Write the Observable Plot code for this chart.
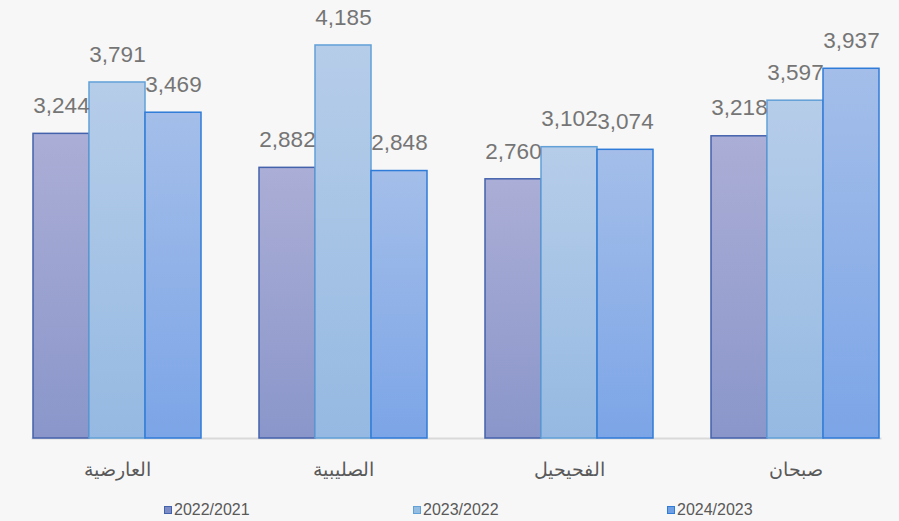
<!DOCTYPE html>
<html><head><meta charset="utf-8">
<script src="https://cdn.jsdelivr.net/npm/d3@7"></script>
<script src="https://cdn.jsdelivr.net/npm/@observablehq/plot@0.6"></script>
<style>
html,body{margin:0;padding:0;background:#f7f7f7;}
#chart{width:899px;height:521px;position:relative;overflow:hidden;}
#legend{position:absolute;left:0;top:501px;width:899px;height:20px;font-family:"Liberation Sans",Arial,sans-serif;font-size:16px;color:#595959;}
.li{position:absolute;top:0;display:flex;align-items:center;}
.sw{width:8px;height:8px;margin-right:2px;box-sizing:border-box;border:1px solid;}
</style></head>
<body><div id="chart"></div>
<script>
const categories = ["العارضية", "الصليبية", "الفحيحيل", "صبحان"];
const seriesNames = ["2022/2021", "2023/2022", "2024/2023"];
const values2022 = [3244, 2882, 2760, 3218];
const values2023 = [3791, 4185, 3102, 3597];
const values2024 = [3469, 2848, 3074, 3937];

const seriesValues = [values2022, values2023, values2024];
const data = [];
categories.forEach((c, i) => seriesValues.forEach((vals, s) => data.push({category: c, series: seriesNames[s], value: vals[i]})));

const fills = {"2022/2021": "url(#g0)", "2023/2022": "url(#g1)", "2024/2023": "url(#g2)"};
const strokes = {"2022/2021": "#4462ac", "2023/2022": "#62a0d8", "2024/2023": "#2f7bd8"};
const fmt = d3.format(",");

const plot = Plot.plot({
  width: 899, height: 490,
  marginTop: 0, marginBottom: 52, marginLeft: 4, marginRight: 0,
  style: {background: "transparent", fontFamily: "'Liberation Sans', Arial, sans-serif", overflow: "visible"},
  fx: {domain: categories, range: [4, 908], paddingInner: 0.25, paddingOuter: 0.125, label: null},
  x: {domain: seriesNames, padding: 0, axis: null},
  y: {domain: [0, 4664], axis: null},
  marks: [
    Plot.frame({facet: "super", anchor: "bottom", stroke: "#d9d9d9", strokeWidth: 2}),
    Plot.barY(data, {fx: "category", x: "series", y: "value", fill: d => fills[d.series], stroke: d => strokes[d.series], strokeWidth: 1.5}),
    Plot.text(data, {fx: "category", x: "series", y: "value", text: d => fmt(d.value), dy: -28, fill: "#757575", fontSize: 22.5}),
    Plot.axisFx({anchor: "bottom", tickSize: 0, tickPadding: 24, fontSize: 18.5, fill: "#595959", label: null})
  ]
});

const svg = d3.select(plot);
const defs = svg.insert("defs", ":first-child");
const grads = [["g0", "#abaed6", "#8a96ca"], ["g1", "#b6cde9", "#95b9e2"], ["g2", "#a4bee9", "#7ca5e7"]];
grads.forEach(([id, top, bot]) => {
  const g = defs.append("linearGradient").attr("id", id).attr("x1", 0).attr("y1", 0).attr("x2", 0).attr("y2", 1);
  g.append("stop").attr("offset", "0%").attr("stop-color", top);
  g.append("stop").attr("offset", "100%").attr("stop-color", bot);
});

const chart = document.getElementById("chart");
chart.appendChild(plot);
const legend = document.createElement("div");
legend.id = "legend";
const lx = [164, 413, 667];
const swFill = ["#7d8cc4", "#94bde3", "#6fa0e6"];
seriesNames.forEach((s, i) => {
  const li = document.createElement("div");
  li.className = "li"; li.style.left = lx[i] + "px";
  const sw = document.createElement("span");
  sw.className = "sw"; sw.style.background = swFill[i]; sw.style.borderColor = strokes[s];
  li.appendChild(sw);
  li.appendChild(document.createTextNode(s));
  legend.appendChild(li);
});
chart.appendChild(legend);
</script></body></html>
